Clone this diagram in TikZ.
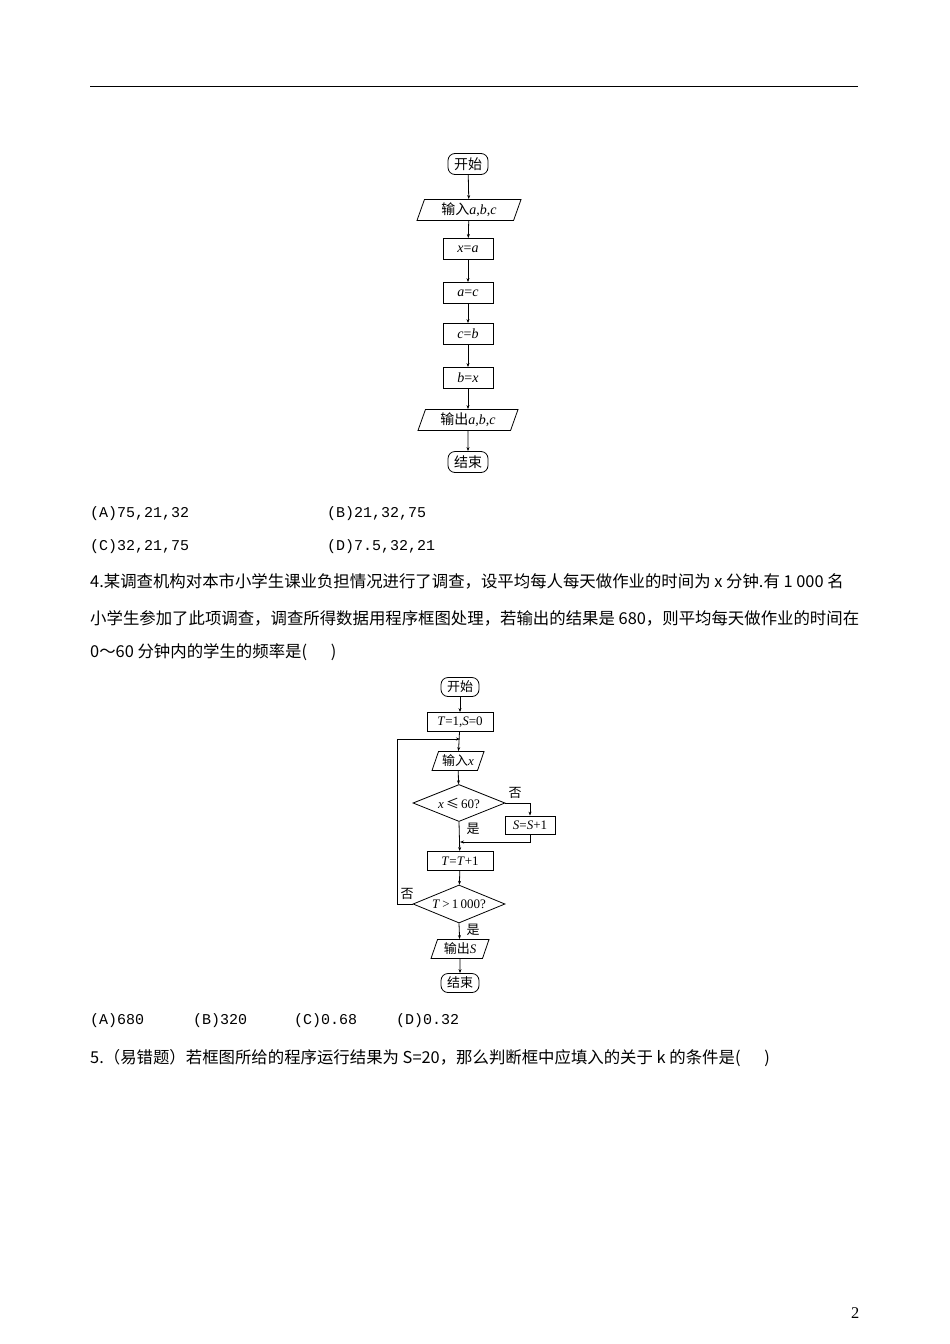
\documentclass[tikz,border=0pt]{standalone}
\usepackage{fontspec}
\setmainfont{Liberation Serif}
\newfontfamily\cjk{Noto Sans CJK SC}
\newfontfamily\monof{Liberation Mono}
\usetikzlibrary{shapes.geometric,arrows.meta}
\begin{document}
\begin{tikzpicture}[x=1pt,y=-1pt,
  base/.style={draw,line width=0.8pt,font=\fontsize{14}{14}\selectfont,inner sep=1pt},
  term/.style={base,rounded corners=7pt,minimum width=40pt,minimum height=21pt},
  proc/.style={base,minimum height=21pt},
  io/.style={base,trapezium,trapezium left angle=65,trapezium right angle=115,minimum height=21pt,trapezium stretches body},
  dec/.style={base,diamond,aspect=2.5,inner sep=0pt},
  arr/.style={-{Stealth[length=4pt,width=3pt]},line width=0.8pt},
  txt/.style={anchor=west,inner sep=0pt,font=\fontsize{16.4}{16}\selectfont},
  mtxt/.style={anchor=west,inner sep=0pt,font=\monof\fontsize{15}{15}\selectfont},
  lab/.style={font=\cjk\fontsize{13}{13}\selectfont,inner sep=0pt},
  small/.style={font=\fontsize{13}{13}\selectfont}]
\useasboundingbox (0,0) rectangle (950,1344);
\draw[thick] (90,86) -- (858,86);
% flowchart 1
\node[term] (s1) at (468,164) {\cjk 开始};
\node[io,minimum width=104pt] (i1) at (469,210) {{\cjk 输入}\textit{a},\textit{b},\textit{c}};
\node[proc,minimum width=50pt] (p1) at (468,249) {\textit{x}=\textit{a}};
\node[proc,minimum width=50pt] (p2) at (468,293) {\textit{a}=\textit{c}};
\node[proc,minimum width=50pt] (p3) at (468,334) {\textit{c}=\textit{b}};
\node[proc,minimum width=50pt] (p4) at (468,378) {\textit{b}=\textit{x}};
\node[io,minimum width=100pt] (o1) at (468,420) {{\cjk 输出}\textit{a},\textit{b},\textit{c}};
\node[term] (e1) at (468,462) {\cjk 结束};
\foreach \a/\b in {s1/i1,i1/p1,p1/p2,p2/p3,p3/p4,p4/o1,o1/e1} \draw[arr] (\a) -- (\b);
% texts
\node[mtxt] (ta) at (90,514) {(A)75,21,32};
\node[mtxt] (tb) at (327,514) {(B)21,32,75};
\node[mtxt] (tc) at (90,547) {(C)32,21,75};
\node[mtxt] (td) at (327,547) {(D)7.5,32,21};
\node[txt] (l1) at (90,581) {\cjk 4.某调查机构对本市小学生课业负担情况进行了调查，设平均每人每天做作业的时间为 x 分钟.有 1 000 名};
\node[txt] (l2) at (90,618) {\cjk 小学生参加了此项调查，调查所得数据用程序框图处理，若输出的结果是 680，则平均每天做作业的时间在};
\node[txt] (l3) at (90,652) {\cjk 0～60 分钟内的学生的频率是(\quad\ \ )};
% flowchart 2
\node[term,small,minimum width=38pt,minimum height=19pt] (s2) at (460,687) {\cjk 开始};
\node[proc,small,minimum width=66pt,minimum height=19pt] (q1) at (460,722) {\textit{T}=1,\textit{S}=0};
\coordinate (j1) at (460,739);
\node[io,small,minimum width=52pt,minimum height=19pt] (i2) at (458,761) {{\cjk 输入}\textit{x}};
\node[dec,small,minimum width=92pt,minimum height=37pt] (d1) at (459,803) {\textit{x}\,{\cjk ≤}\,60?};
\node[proc,small,minimum width=50pt,minimum height=18pt] (q2) at (530,825) {\textit{S}=\textit{S}+1};
\coordinate (j2) at (460,842);
\node[proc,small,minimum width=66pt,minimum height=19pt] (q3) at (460,861) {\textit{T}=\textit{T}+1};
\node[dec,small,minimum width=92pt,minimum height=38pt] (d2) at (459,904) {\textit{T}\,>\,1\,000?};
\node[io,small,minimum width=58pt,minimum height=19pt] (o2) at (460,949) {{\cjk 输出}\textit{S}};
\node[term,small,minimum width=38pt,minimum height=19pt] (e2) at (460,983) {\cjk 结束};
\draw[arr] (s2) -- (q1);
\draw[arr] (q1) -- (i2);
\draw[arr] (i2) -- (d1);
\draw[arr] (d1.east) -| (q2.north);
\draw[arr] (q2.south) |- (j2);
\draw[arr] (d1.south) -- (q3);
\draw[arr] (q3) -- (d2);
\draw[arr] (d2.west) -- (397,904) |- (j1);
\draw[arr] (d2.south) -- (o2);
\draw[arr] (o2) -- (e2);
\node[lab] (n1) at (515,793) {否};
\node[lab] (y1) at (473,829) {是};
\node[lab] (n2) at (407,894) {否};
\node[lab] (y2) at (473,930) {是};
% bottom texts
\node[mtxt] (a2) at (90,1021) {(A)680};
\node[mtxt] (b2) at (193,1021) {(B)320};
\node[mtxt] (c2) at (294,1021) {(C)0.68};
\node[mtxt] (d2t) at (396,1021) {(D)0.32};
\node[txt] (l5) at (90,1058) {\cjk 5.（易错题）若框图所给的程序运行结果为 S=20，那么判断框中应填入的关于 k 的条件是(\quad\ \ )};
\node[txt] (pg) at (851,1313) {2};
\end{tikzpicture}
\end{document}
